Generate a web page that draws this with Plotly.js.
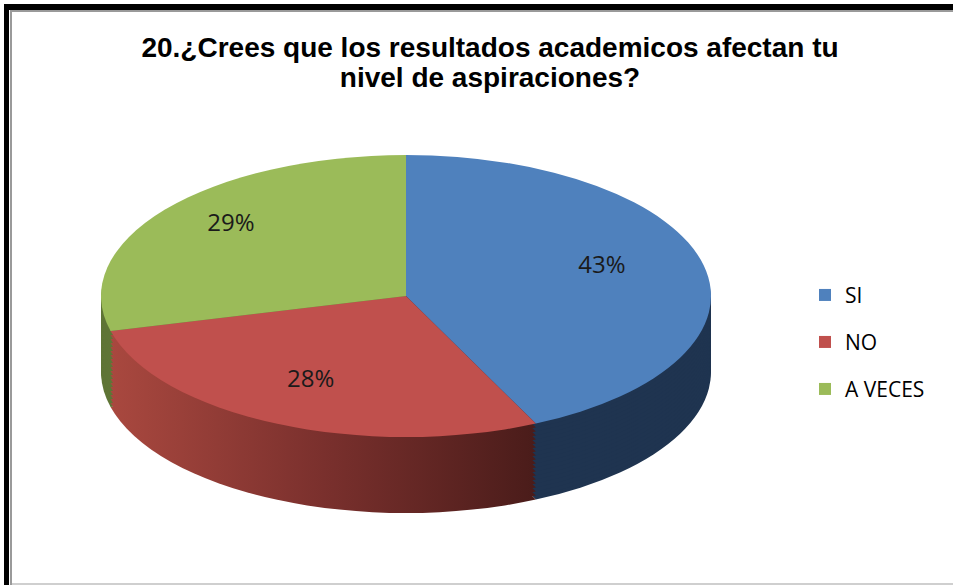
<!DOCTYPE html>
<html>
<head>
<meta charset="utf-8">
<script src="https://cdn.plot.ly/plotly-3.0.1.min.js"></script>
<style>
  html, body { margin: 0; padding: 0; background: #ffffff; }
  #wrap { position: relative; width: 953px; height: 585px; overflow: hidden; background: #fff; }
  #chart { position: absolute; left: 0; top: 0; width: 953px; height: 585px; }
  .bd { position: absolute; pointer-events: none; }
</style>
</head>
<body>
<div id="wrap">
  <div id="chart"></div>
  <div class="bd" style="left:4px; top:4px; width:949px; height:6px; background:#000;"></div>
  <div class="bd" style="left:10px; top:10px; width:943px; height:2px; background:#9a9a9a;"></div>
  <div class="bd" style="left:4px; top:4px; width:5px; height:581px; background:#000;"></div>
  <div class="bd" style="left:10px; top:10px; width:2px; height:575px; background:#9a9a9a;"></div>
  <div class="bd" style="left:12px; top:583px; width:941px; height:2px; background:#cfcfcf;"></div>
</div>
<script>
// ---- data ----
const titleText = "20.¿Crees que los resultados academicos afectan tu<br>nivel de aspiraciones?";
const categories = ["SI", "NO", "A VECES"];
const values = [43, 28, 29];
const topColors = ["#4f81bd", "#c0504d", "#9bbb59"];
const sideColors = ["#1f3450", "#7e302d", "#5f7536"];

// ---- styling / geometry of the tilted pie ----
const CX = 406, CY = 290, R = 200;          // circle drawn by plotly
const TX = 406, TY = 296;                   // target centre of ellipse
const SX = 305 / R, SY = 141 / R;           // squish to ellipse
const THICK = 74, STEP = 4;                 // side depth
const LABEL_SPREAD = 1.3, LABEL_LIFT = 12;  // data label placement on the tilted face
const LEGEND_GAP = 47;                      // legend row spacing
const TITLE_LINE_GAP = 30;                  // title line spacing

const W = 953, H = 585;
const domain = {
  x: [(CX - R) / W, (CX + R) / W],
  y: [(H - CY - R) / H, (H - CY + R) / H]
};

const traces = [];
const nLayers = Math.round(THICK / STEP);
for (let i = nLayers; i >= 1; i--) {
  traces.push({
    type: "pie",
    labels: categories,
    values: values,
    sort: false,
    direction: "clockwise",
    rotation: 0,
    domain: domain,
    textinfo: "none",
    hoverinfo: "skip",
    showlegend: false,
    marker: { colors: sideColors, line: { width: 0 } },
    name: "side" + i
  });
}
traces.push({
  type: "pie",
  labels: categories,
  values: values,
  sort: false,
  direction: "clockwise",
  rotation: 0,
  domain: domain,
  textinfo: "percent",
  texttemplate: "%{percent:.0%}",
  textposition: "inside",
  insidetextorientation: "horizontal",
  insidetextfont: { family: "Open Sans, Lato, sans-serif", size: 24, color: "#1a1a1a" },
  hoverinfo: "label+percent",
  marker: { colors: topColors, line: { width: 0 } },
  name: "top"
});

const layout = {
  width: W,
  height: H,
  margin: { l: 0, r: 0, t: 0, b: 0 },
  paper_bgcolor: "#ffffff",
  plot_bgcolor: "#ffffff",
  title: {
    text: titleText,
    font: { family: "Liberation Sans, Arial, sans-serif", size: 28, color: "#000000", weight: "bold" },
    x: 490 / W,
    xanchor: "center",
    xref: "container",
    y: 1 - 57 / H,
    yanchor: "top",
    yref: "container"
  },
  showlegend: true,
  legend: {
    x: 805 / W,
    xanchor: "left",
    y: (H - 342) / H,
    yanchor: "middle",
    font: { family: "Open Sans, sans-serif", size: 21, color: "#000000" },
    bgcolor: "rgba(0,0,0,0)",
    itemwidth: 30
  }
};

Plotly.newPlot("chart", traces, layout, { displayModeBar: false, staticPlot: true }).then(function (gd) {
  const svg = gd.querySelector(".main-svg");
  const svgRect = svg.getBoundingClientRect();
  const ns = "http://www.w3.org/2000/svg";

  // gradient for the red side wall
  let defs = svg.querySelector("defs");
  if (!defs) { defs = document.createElementNS(ns, "defs"); svg.insertBefore(defs, svg.firstChild); }
  const grad = document.createElementNS(ns, "linearGradient");
  grad.setAttribute("id", "redSideGrad");
  grad.setAttribute("x1", "0"); grad.setAttribute("x2", "1");
  grad.setAttribute("y1", "0"); grad.setAttribute("y2", "0");
  [["0", "#a9483f"], ["0.5", "#7a302d"], ["1", "#4a1c1a"]].forEach(function (s) {
    const st = document.createElementNS(ns, "stop");
    st.setAttribute("offset", s[0]); st.setAttribute("stop-color", s[1]);
    grad.appendChild(st);
  });
  defs.appendChild(grad);

  // tilt the pie into an ellipse and stack side layers
  const traceGroups = gd.querySelectorAll(".pielayer g.trace");
  const nT = traceGroups.length;
  traceGroups.forEach(function (tg, idx) {
    const isTop = idx === nT - 1;
    const off = isTop ? 0 : (nLayers - idx) * STEP;
    const tf = "translate(" + TX + "," + (TY + off) + ") scale(" + SX + "," + SY + ") translate(" + (-CX) + "," + (-CY) + ")";
    tg.querySelectorAll("g.slice").forEach(function (sl, si) {
      const p = sl.querySelector("path.surface");
      if (p) {
        p.setAttribute("transform", tf);
        if (!isTop && si === 1) p.style.fill = "url(#redSideGrad)";
      }
      const t = sl.querySelector("g.slicetext");
      if (t && isTop) {
        const r = t.getBoundingClientRect();
        const tx = r.left + r.width / 2 - svgRect.left;
        const ty = r.top + r.height / 2 - svgRect.top;
        const nx = TX + (tx - CX) * SX * LABEL_SPREAD;
        const ny = TY - LABEL_LIFT + (ty - CY) * SY * LABEL_SPREAD;
        const old = t.getAttribute("transform") || "";
        t.setAttribute("transform", "translate(" + (nx - tx) + "," + (ny - ty) + ") " + old);
      }
    });
  });

  // spread legend rows
  const sb = gd.querySelector(".legend .scrollbox");
  if (sb) sb.removeAttribute("clip-path");
  const items = Array.from(gd.querySelectorAll(".legend g.traces"));
  if (items.length) {
    const ys = items.map(function (it) {
      const m = /translate\(\s*([-\d.]+)[ ,]+([-\d.]+)\s*\)/.exec(it.getAttribute("transform") || "");
      return m ? [parseFloat(m[1]), parseFloat(m[2])] : [0, 0];
    });
    const mid = (items.length - 1) / 2;
    const midY = (ys[0][1] + ys[items.length - 1][1]) / 2;
    items.forEach(function (it, i) {
      it.setAttribute("transform", "translate(" + ys[i][0] + "," + (midY + (i - mid) * LEGEND_GAP) + ")");
    });
  }

  // tighten title line spacing
  const lines = gd.querySelectorAll(".g-gtitle text tspan.line");
  if (lines.length > 1) {
    for (let i = 1; i < lines.length; i++) {
      lines[i].setAttribute("dy", (TITLE_LINE_GAP / 28) + "em");
    }
  }
});
</script>
</body>
</html>
